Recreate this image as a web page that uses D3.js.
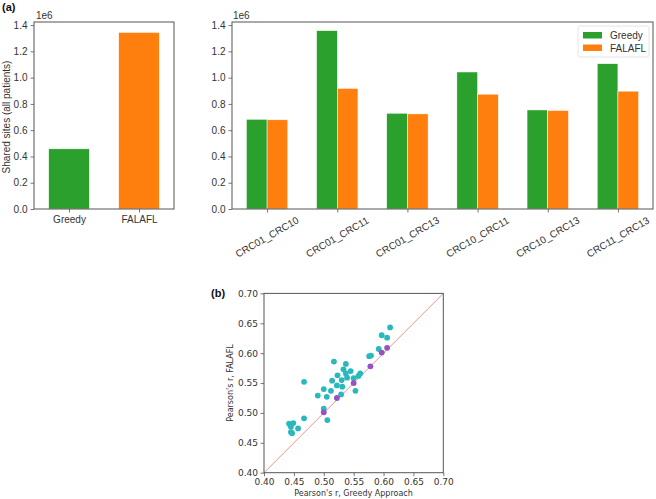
<!DOCTYPE html>
<html>
<head>
<meta charset="utf-8">
<script src="https://cdn.jsdelivr.net/npm/d3@7"></script>
<style>
  body { margin: 0; background: #fff; }
  svg { display: block; }
</style>
</head>
<body>
<svg id="fig" width="656" height="499"></svg>
<script>
// totals, all patients
var methods = ["Greedy", "FALAFL"]
var totalSites = [0.458, 1.344]

// per patient pair
var pairs = ["CRC01_CRC10", "CRC01_CRC11", "CRC01_CRC13", "CRC10_CRC11", "CRC10_CRC13", "CRC11_CRC13"]
var greedySites = [0.683, 1.358, 0.729, 1.043, 0.754, 1.106]
var falaflSites = [0.679, 0.918, 0.724, 0.874, 0.750, 0.897]

var siteTicks = [0, 0.2, 0.4, 0.6, 0.8, 1.0, 1.2, 1.4]
var corrTicks = [0.40, 0.45, 0.50, 0.55, 0.60, 0.65, 0.70]

// pearson r, greedy vs falafl (cyan: falafl higher, purple: about equal)
var cyanX = [0.611, 0.597, 0.606, 0.592, 0.576, 0.579, 0.517, 0.537, 0.533, 0.545, 0.523, 0.537,
             0.561, 0.558, 0.514, 0.530, 0.539, 0.550, 0.467, 0.522, 0.531, 0.500, 0.512, 0.553,
             0.529, 0.490, 0.505, 0.500, 0.467, 0.506, 0.442, 0.449, 0.445, 0.457, 0.445, 0.447]
var cyanY = [0.643, 0.630, 0.626, 0.607, 0.595, 0.596, 0.586, 0.582, 0.573, 0.570, 0.563, 0.566,
             0.566, 0.562, 0.554, 0.555, 0.559, 0.558, 0.552, 0.546, 0.544, 0.540, 0.537, 0.537,
             0.531, 0.529, 0.527, 0.507, 0.491, 0.488, 0.482, 0.483, 0.477, 0.474, 0.468, 0.466]
var purpleX = [0.606, 0.597, 0.578, 0.550, 0.522, 0.500]
var purpleY = [0.609, 0.601, 0.578, 0.550, 0.525, 0.501]

var green = "#2ca02c", orange = "#ff7f0e"
var spine = "#555"
var svg = d3.select("#fig")
svg.append("rect").attr("width", 656).attr("height", 499).attr("fill", "#fff")

var sansA = "'Liberation Sans', Arial, sans-serif"
var sansB = "'DejaVu Sans', sans-serif"

function styleAxis(g, font, size) {
  g.selectAll(".domain").remove()
  g.selectAll("line").attr("stroke", spine).attr("stroke-width", 0.8)
  g.selectAll("text").attr("fill", "#333").style("font-family", font).style("font-size", size + "px")
}

// ---------- (a) left ----------
var yS = d3.scaleLinear().domain([0, 1.4235]).range([209, 22])

var xL = d3.scaleLinear().domain([-0.5, 1.5]).range([34, 174])
svg.selectAll(".tot").data(methods).enter().append("rect")
  .attr("x", function(d, i) { return xL(i - 0.29) })
  .attr("width", xL(0.29) - xL(-0.29))
  .attr("y", function(d, i) { return yS(totalSites[i]) })
  .attr("height", function(d, i) { return yS(0) - yS(totalSites[i]) })
  .attr("fill", function(d, i) { return i == 0 ? green : orange })
  .attr("stroke", "#fff").attr("stroke-width", 0.5)

var gyl = svg.append("g").attr("transform", "translate(34,0)")
  .call(d3.axisLeft(yS).tickValues(siteTicks).tickFormat(d3.format(".1f")).tickSize(3.5).tickPadding(3))
styleAxis(gyl, sansA, 10)
var gxl = svg.append("g").attr("transform", "translate(0,209)")
  .call(d3.axisBottom(xL).tickValues([0, 1]).tickFormat(function(d) { return methods[d] }).tickSize(3.5).tickPadding(3))
styleAxis(gxl, sansA, 10)
svg.append("rect").attr("x", 34).attr("y", 22).attr("width", 140).attr("height", 187)
  .attr("fill", "none").attr("stroke", spine).attr("stroke-width", 1)

svg.append("text").attr("x", 36).attr("y", 19).text("1e6")
  .attr("fill", "#333").style("font-family", sansA).style("font-size", "10px")
svg.append("text").attr("transform", "translate(10,117) rotate(-90)")
  .attr("text-anchor", "middle").text("Shared sites (all patients)")
  .attr("fill", "#333").style("font-family", sansA).style("font-size", "10px")
svg.append("text").attr("x", 2).attr("y", 11).text("(a)")
  .attr("fill", "#111").style("font-family", sansA).style("font-size", "11px").style("font-weight", "bold")

// ---------- (a) right ----------
var xR = d3.scaleLinear().domain([-0.5, 5.5]).range([232, 653])
var bw = 0.295
svg.selectAll(".gr").data(greedySites).enter().append("rect")
  .attr("x", function(d, i) { return xR(i - bw) })
  .attr("width", xR(bw) - xR(0))
  .attr("y", function(d) { return yS(d) })
  .attr("height", function(d) { return yS(0) - yS(d) })
  .attr("fill", green).attr("stroke", "#fff").attr("stroke-width", 0.5)
svg.selectAll(".fa").data(falaflSites).enter().append("rect")
  .attr("x", function(d, i) { return xR(i) })
  .attr("width", xR(bw) - xR(0))
  .attr("y", function(d) { return yS(d) })
  .attr("height", function(d) { return yS(0) - yS(d) })
  .attr("fill", orange).attr("stroke", "#fff").attr("stroke-width", 0.5)

var gyr = svg.append("g").attr("transform", "translate(232,0)")
  .call(d3.axisLeft(yS).tickValues(siteTicks).tickFormat(d3.format(".1f")).tickSize(3.5).tickPadding(3))
styleAxis(gyr, sansA, 10)
var gxr = svg.append("g").attr("transform", "translate(0,209)")
  .call(d3.axisBottom(xR).tickValues(d3.range(pairs.length)).tickFormat("").tickSize(3.5))
styleAxis(gxr, sansA, 10)
svg.selectAll(".pl").data(pairs).enter().append("text")
  .attr("transform", function(d, i) { return "translate(" + xR(i) + ",237) rotate(-30)" })
  .attr("text-anchor", "middle").attr("dy", "0.35em").text(function(d) { return d })
  .attr("fill", "#333").style("font-family", sansA).style("font-size", "10px")
svg.append("rect").attr("x", 232).attr("y", 22).attr("width", 421).attr("height", 187)
  .attr("fill", "none").attr("stroke", spine).attr("stroke-width", 1)
svg.append("text").attr("x", 233).attr("y", 19).text("1e6")
  .attr("fill", "#333").style("font-family", sansA).style("font-size", "10px")

// legend
var lg = svg.append("g").attr("transform", "translate(578,26)")
lg.append("rect").attr("width", 71).attr("height", 31).attr("rx", 2)
  .attr("fill", "#fff").attr("stroke", "#ddd").attr("stroke-width", 0.8)
methods.forEach(function(m, i) {
  lg.append("rect").attr("x", 5).attr("y", 6 + i * 12.5).attr("width", 19).attr("height", 6.5)
    .attr("fill", i == 0 ? green : orange)
  lg.append("text").attr("x", 32).attr("y", 9.5 + i * 12.5).attr("dy", "0.35em").text(m)
    .attr("fill", "#333").style("font-family", sansA).style("font-size", "10px")
})

// ---------- (b) scatter ----------
var xs = d3.scaleLinear().domain([0.4, 0.7]).range([264, 443.3])
var ys = d3.scaleLinear().domain([0.4, 0.7]).range([472.7, 293.4])

svg.append("line")
  .attr("x1", xs(0.4)).attr("y1", ys(0.4)).attr("x2", xs(0.7)).attr("y2", ys(0.7))
  .attr("stroke", "#e8736e").attr("stroke-width", 0.8)

svg.selectAll(".cy").data(cyanX).enter().append("circle")
  .attr("cx", function(d) { return xs(d) })
  .attr("cy", function(d, i) { return ys(cyanY[i]) })
  .attr("r", 2.9).attr("fill", "#2ab8bc")
svg.selectAll(".pu").data(purpleX).enter().append("circle")
  .attr("cx", function(d) { return xs(d) })
  .attr("cy", function(d, i) { return ys(purpleY[i]) })
  .attr("r", 2.9).attr("fill", "#9a4fc2")

var gyb = svg.append("g").attr("transform", "translate(264,0)")
  .call(d3.axisLeft(ys).tickValues(corrTicks).tickFormat(d3.format(".2f")).tickSize(3.5).tickPadding(2.5))
styleAxis(gyb, sansB, 9)
var gxb = svg.append("g").attr("transform", "translate(0,472.7)")
  .call(d3.axisBottom(xs).tickValues(corrTicks).tickFormat(d3.format(".2f")).tickSize(3.5).tickPadding(2))
styleAxis(gxb, sansB, 9)
svg.append("rect").attr("x", 264).attr("y", 293.4).attr("width", 179.3).attr("height", 179.3)
  .attr("fill", "none").attr("stroke", spine).attr("stroke-width", 1)

svg.append("text").attr("x", 353.5).attr("y", 496).attr("text-anchor", "middle")
  .text("Pearson's r, Greedy Approach")
  .attr("fill", "#333").style("font-family", sansB).style("font-size", "8px")
svg.append("text").attr("transform", "translate(233,383) rotate(-90)")
  .attr("text-anchor", "middle").text("Pearson's r, FALAFL")
  .attr("fill", "#333").style("font-family", sansB).style("font-size", "8px")
svg.append("text").attr("x", 211).attr("y", 297).text("(b)")
  .attr("fill", "#111").style("font-family", sansA).style("font-size", "11px").style("font-weight", "bold")
</script>
</body>
</html>
